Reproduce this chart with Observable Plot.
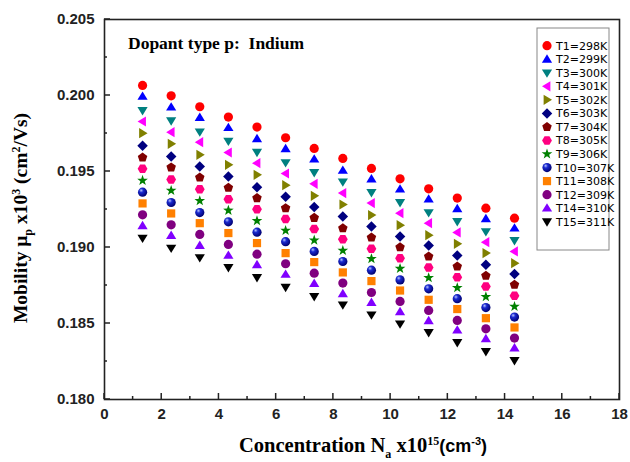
<!DOCTYPE html>
<html><head><meta charset="utf-8">
<script src="https://cdn.jsdelivr.net/npm/d3@7"></script>
<script src="https://cdn.jsdelivr.net/npm/@observablehq/plot@0.6"></script>
<style>
body{margin:0;background:#fff}
#chart{position:relative;width:630px;height:462px}
</style>
</head><body><div id="chart"></div>
<script>
// ---- data ----
const concentration = [1.33, 2.33, 3.33, 4.33, 5.33, 6.33, 7.33, 8.33, 9.33, 10.33, 11.33, 12.33, 13.33, 14.33];
const seriesLabels = ["T1=298K","T2=299K","T3=300K","T4=301K","T5=302K","T6=303K","T7=304K","T8=305K","T9=306K","T10=307K","T11=308K","T12=309K","T14=310K","T15=311K"];
const mobilityT1  = [0.20066,0.19998,0.19926,0.19858,0.19792,0.19722,0.19652,0.19586,0.19520,0.19452,0.19386,0.19325,0.19259,0.19193];
const mobilityT2  = [0.19994,0.19923,0.19855,0.19788,0.19715,0.19649,0.19581,0.19507,0.19450,0.19384,0.19318,0.19255,0.19189,0.19127];
const mobilityT3  = [0.19902,0.19834,0.19761,0.19700,0.19627,0.19559,0.19494,0.19432,0.19362,0.19296,0.19230,0.19171,0.19105,0.19046];
const mobilityT4  = [0.19829,0.19759,0.19693,0.19625,0.19555,0.19487,0.19419,0.19358,0.19292,0.19226,0.19160,0.19099,0.19035,0.18974];
const mobilityT5  = [0.19752,0.19682,0.19610,0.19544,0.19478,0.19410,0.19340,0.19283,0.19213,0.19147,0.19081,0.19024,0.18963,0.18897];
const mobilityT6  = [0.19669,0.19599,0.19533,0.19467,0.19397,0.19334,0.19266,0.19204,0.19138,0.19073,0.19013,0.18948,0.18886,0.18825];
const mobilityT7  = [0.19592,0.19527,0.19461,0.19393,0.19325,0.19259,0.19195,0.19127,0.19066,0.19002,0.18941,0.18875,0.18814,0.18755];
const mobilityT8  = [0.19518,0.19448,0.19384,0.19318,0.19252,0.19187,0.19121,0.19055,0.18991,0.18930,0.18869,0.18805,0.18744,0.18682];
const mobilityT9  = [0.19441,0.19375,0.19307,0.19244,0.19176,0.19112,0.19048,0.18980,0.18926,0.18862,0.18801,0.18735,0.18676,0.18612];
const mobilityT10 = [0.19364,0.19296,0.19230,0.19169,0.19101,0.19038,0.18974,0.18908,0.18851,0.18787,0.18728,0.18663,0.18605,0.18542];
const mobilityT11 = [0.19290,0.19224,0.19160,0.19095,0.19029,0.18963,0.18904,0.18836,0.18779,0.18717,0.18656,0.18595,0.18535,0.18474];
const mobilityT12 = [0.19215,0.19149,0.19086,0.19020,0.18956,0.18893,0.18831,0.18766,0.18704,0.18645,0.18586,0.18520,0.18465,0.18404];
const mobilityT14 = [0.19143,0.19079,0.19013,0.18948,0.18886,0.18823,0.18763,0.18695,0.18638,0.18577,0.18518,0.18456,0.18399,0.18338];
const mobilityT15 = [0.19062,0.18996,0.18934,0.18869,0.18803,0.18739,0.18678,0.18623,0.18557,0.18498,0.18441,0.18375,0.18316,0.18257];
const xTicks = [0,2,4,6,8,10,12,14,16,18];
const yTicks = [0.180,0.185,0.190,0.195,0.200,0.205];
const xMinorTicks = [1,3,5,7,9,11,13,15,17];
const yMinorTicks = [0.1825,0.1875,0.1925,0.1975,0.2025];

const allSeries = [mobilityT1,mobilityT2,mobilityT3,mobilityT4,mobilityT5,mobilityT6,mobilityT7,mobilityT8,mobilityT9,mobilityT10,mobilityT11,mobilityT12,mobilityT14,mobilityT15];

// ---- symbols ----
function poly(pts){return {draw(ctx,size){const r=Math.sqrt(size/Math.PI);ctx.moveTo(pts[0][0]*r,pts[0][1]*r);for(let i=1;i<pts.length;i++)ctx.lineTo(pts[i][0]*r,pts[i][1]*r);ctx.closePath();}};}
function regular(n,rad,start){const p=[];for(let i=0;i<n;i++){const a=start+i*2*Math.PI/n;p.push([rad*Math.cos(a),rad*Math.sin(a)]);}return poly(p);}
const symCircle={draw(ctx,size){const r=Math.sqrt(size/Math.PI)*0.92;ctx.moveTo(r,0);ctx.arc(0,0,r,0,2*Math.PI);}};
const symTriUp=poly([[0,-1.0],[1.02,0.68],[-1.02,0.68]]);
const symTriDown=poly([[0,1.0],[1.02,-0.68],[-1.02,-0.68]]);
const symTriLeft=poly([[-1.0,0],[0.68,-1.02],[0.68,1.02]]);
const symTriRight=poly([[1.0,0],[-0.68,-1.02],[-0.68,1.02]]);
const symDiamond=poly([[0,-1.05],[1.05,0],[0,1.05],[-1.05,0]]);
const symPentagon=regular(5,1.0,-Math.PI/2);
const symHexagon=regular(6,0.98,0);
const symStar=(function(){const p=[];for(let i=0;i<10;i++){const a=-Math.PI/2+i*Math.PI/5;const rr=i%2?0.45:1.12;p.push([rr*Math.cos(a),rr*Math.sin(a)]);}return poly(p);})();
const symSquare=poly([[-0.82,-0.82],[0.82,-0.82],[0.82,0.82],[-0.82,0.82]]);

const seriesSymbols=[symCircle,symTriUp,symTriDown,symTriLeft,symTriRight,symDiamond,symPentagon,symHexagon,symStar,symCircle,symSquare,symCircle,symTriUp,symTriDown];
const seriesColors=["#ff0000","#0000ff","#008080","#ff00ff","#808000","#000080","#800000","#ff0080","#008000","url(#sphere)","#ff8000","#800080","#8000ff","#000000"];

const rows=[];
allSeries.forEach((vals,s)=>vals.forEach((v,i)=>rows.push({series:seriesLabels[s],x:concentration[i],y:v})));

const axisColor="#222";
const tickFont={fontFamily:"'Liberation Sans', Arial, sans-serif",fontWeight:"bold",fontSize:"15px"};

const dotMarks=seriesLabels.map((name,s)=>Plot.dot(rows.filter(d=>d.series===name),{x:"x",y:"y",r:5,symbol:seriesSymbols[s],fill:seriesColors[s],stroke:"none"}));

const chart=Plot.plot({
  width:630,height:462,
  marginLeft:104,marginRight:11,marginTop:19,marginBottom:63,
  style:{background:"#fff",color:axisColor,fontFamily:"'Liberation Sans', Arial, sans-serif"},
  x:{domain:[0,18],label:null},
  y:{domain:[0.180,0.205],label:null},
  marks:[
    ...dotMarks,
    Plot.axisX({ticks:xTicks,tickSize:0,tickPadding:9,tickFormat:d3.format("d"),label:null,...tickFont}),
    Plot.axisY({ticks:yTicks,tickSize:0,tickPadding:10,tickFormat:d3.format(".3f"),label:null,...tickFont}),
    Plot.frame({stroke:axisColor,strokeWidth:1.6})
  ]
});
document.getElementById("chart").appendChild(chart);

const svg=d3.select(chart);
const defs=svg.insert("defs",":first-child");
const g=defs.append("radialGradient").attr("id","sphere").attr("cx","0.38").attr("cy","0.35").attr("r","0.65").attr("fx","0.35").attr("fy","0.3");
g.append("stop").attr("offset","0").attr("stop-color","#b8c4ff");
g.append("stop").attr("offset","0.35").attr("stop-color","#1a2ad0");
g.append("stop").attr("offset","1").attr("stop-color","#000070");

// inward ticks, positioned with Plot's own scales
const sx=chart.scale("x"), sy=chart.scale("y");
const x0=sx.apply(0), y0=sy.apply(0.180);
const tg=svg.append("g").attr("stroke",axisColor).attr("stroke-width",1.5);
xTicks.forEach(v=>tg.append("line").attr("x1",sx.apply(v)).attr("x2",sx.apply(v)).attr("y1",y0).attr("y2",y0-6));
xMinorTicks.forEach(v=>tg.append("line").attr("x1",sx.apply(v)).attr("x2",sx.apply(v)).attr("y1",y0).attr("y2",y0-3));
yTicks.forEach(v=>tg.append("line").attr("y1",sy.apply(v)).attr("y2",sy.apply(v)).attr("x1",x0).attr("x2",x0+6));
yMinorTicks.forEach(v=>tg.append("line").attr("y1",sy.apply(v)).attr("y2",sy.apply(v)).attr("x1",x0).attr("x2",x0+3));

const serif="'Liberation Serif','Times New Roman',serif";
// annotation
svg.append("text").attr("x",128).attr("y",49).attr("text-anchor","start").attr("font-family",serif).attr("font-weight","bold").attr("font-size","17.5px").attr("fill","#000").style("white-space","pre").text("Dopant type p:  Indium");

// y-axis title
const yt=svg.append("text").attr("transform","translate(27,218) rotate(-90)").attr("text-anchor","middle").attr("font-family",serif).attr("font-weight","bold").attr("font-size","19.5px").attr("fill","#000");
yt.append("tspan").text("Mobility \u03bc");
yt.append("tspan").attr("dy",5).attr("font-size","12px").text("p");
yt.append("tspan").attr("dy",-5).text(" x10");
yt.append("tspan").attr("dy",-7).attr("font-size","12px").text("3");
yt.append("tspan").attr("dy",7).text(" (cm");
yt.append("tspan").attr("dy",-7).attr("font-size","12px").text("2");
yt.append("tspan").attr("dy",7).text("/Vs)");

// x-axis title
const xt=svg.append("text").attr("x",363).attr("y",452).attr("text-anchor","middle").attr("font-family",serif).attr("font-weight","bold").attr("font-size","20.5px").attr("fill","#000");
xt.append("tspan").text("Concentration N");
xt.append("tspan").attr("dy",6).attr("font-size","12px").text("a");
xt.append("tspan").attr("dy",-6).text(" x10");
xt.append("tspan").attr("dy",-7).attr("font-size","12px").text("15");
xt.append("tspan").attr("dy",7).attr("font-family","'Liberation Sans',Arial,sans-serif").attr("font-size","18px").text("(cm");
xt.append("tspan").attr("dy",-7).attr("font-family","'Liberation Sans',Arial,sans-serif").attr("font-size","11px").text("-3");
xt.append("tspan").attr("dy",7).attr("font-family","'Liberation Sans',Arial,sans-serif").attr("font-size","18px").text(")");

// legend
const lg=svg.append("g");
lg.append("rect").attr("x",537).attr("y",28).attr("width",72).attr("height",222).attr("fill","#fff").attr("stroke","#888").attr("stroke-width",1);
seriesLabels.forEach((name,s)=>{
  const yy=45.7+s*13.54;
  lg.append("path").attr("transform",`translate(547,${yy})`).attr("d",d3.symbol().type(seriesSymbols[s]).size(Math.PI*25)()).attr("fill",seriesColors[s]);
  lg.append("text").attr("x",556).attr("y",yy).attr("dy","0.36em").attr("text-anchor","start").attr("font-family","'DejaVu Sans',Verdana,sans-serif").attr("font-size","11px").attr("fill","#000").text(name);
});
</script>
</body></html>
